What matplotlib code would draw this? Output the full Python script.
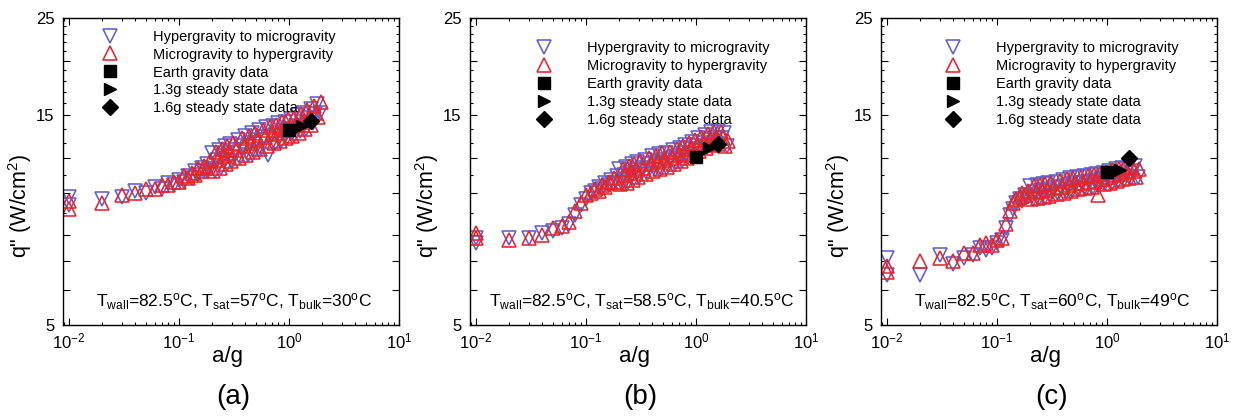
import matplotlib
matplotlib.use('Agg')
import matplotlib.pyplot as plt
from matplotlib.ticker import FixedLocator, NullFormatter, FixedFormatter

plt.rcParams['font.family'] = 'Liberation Sans'
plt.rcParams['mathtext.fontset'] = 'custom'
plt.rcParams['mathtext.rm'] = 'Liberation Sans'
plt.rcParams['mathtext.it'] = 'Liberation Sans:italic'

# a/g values of the two sweep directions
x_hyper = [0.01, 0.01, 0.02, 0.03, 0.04, 0.05, 0.06, 0.07, 0.08, 0.09,
           0.10, 0.11, 0.12, 0.13, 0.14, 0.15, 0.16, 0.17, 0.18, 0.19,
           0.20, 0.21, 0.22, 0.23, 0.24, 0.25, 0.26, 0.27, 0.28, 0.29,
           0.30, 0.32, 0.34, 0.36, 0.38, 0.40, 0.42, 0.44, 0.46, 0.48,
           0.50, 0.53, 0.56, 0.59, 0.62, 0.65, 0.68, 0.71, 0.74, 0.77,
           0.80, 0.84, 0.88, 0.92, 0.96, 1.00, 1.05, 1.10, 1.15, 1.20,
           1.26, 1.32, 1.38, 1.44, 1.50, 1.57, 1.64, 1.72, 1.80, 1.90]
x_micro = [0.01, 0.01, 0.02, 0.03, 0.04, 0.05, 0.06, 0.07, 0.08, 0.09,
           0.10, 0.11, 0.12, 0.13, 0.14, 0.15, 0.16, 0.17, 0.18, 0.19,
           0.205, 0.215, 0.225, 0.235, 0.245, 0.255, 0.265, 0.275, 0.285, 0.295,
           0.31, 0.33, 0.35, 0.37, 0.39, 0.41, 0.43, 0.45, 0.47, 0.49,
           0.515, 0.545, 0.575, 0.605, 0.635, 0.665, 0.695, 0.725, 0.755, 0.785,
           0.82, 0.86, 0.90, 0.94, 0.98, 1.02, 1.07, 1.12, 1.17, 1.23,
           1.29, 1.35, 1.41, 1.47, 1.53, 1.60, 1.68, 1.76, 1.85, 1.95]

# heat flux q" (W/cm2), case (a)
qa_hyper = [9.8, 9.4, 9.7, 9.8, 10.1, 10.0, 10.3, 10.2, 10.5, 10.4,
            10.7, 10.6, 10.9, 10.8, 11.2, 11.0, 11.4, 11.2, 11.6, 11.3,
            12.3, 11.2, 11.9, 12.5, 11.4, 12.1, 12.8, 11.6, 12.3, 12.9,
            11.8, 12.5, 13.2, 12.0, 12.8, 13.5, 12.2, 13.0, 13.7, 12.4,
            13.2, 13.9, 12.6, 13.4, 14.1, 12.2, 13.5, 14.2, 12.9, 13.7,
            14.4, 13.1, 13.9, 14.5, 13.3, 14.0, 14.7, 13.5, 14.2, 15.0,
            13.8, 14.5, 15.2, 14.0, 14.8, 15.5, 14.4, 15.1, 15.9, 15.2]
qa_micro = [9.6, 9.2, 9.5, 9.9, 10.0, 10.2, 10.2, 10.4, 10.4, 10.6,
            10.6, 10.9, 10.8, 11.1, 11.0, 11.4, 11.2, 11.5, 11.4, 11.8,
            11.2, 12.4, 11.9, 11.4, 12.6, 12.1, 11.6, 12.8, 12.3, 11.8,
            13.0, 12.5, 12.0, 13.3, 12.8, 12.2, 13.5, 13.0, 12.4, 13.7,
            13.2, 12.6, 13.9, 13.4, 12.8, 14.1, 13.6, 13.0, 14.3, 13.7,
            13.1, 14.5, 13.9, 13.3, 14.7, 14.1, 13.5, 14.8, 14.3, 13.7,
            15.1, 14.5, 14.0, 15.4, 14.8, 14.3, 15.8, 15.2, 14.9, 16.1]

# case (b)
qb_hyper = [7.9, 7.7, 7.9, 7.9, 8.1, 8.2, 8.3, 8.5, 8.9, 9.4,
            9.7, 10.0, 10.1, 10.3, 10.2, 10.5, 10.4, 10.7, 10.5, 10.9,
            11.3, 10.45, 10.95, 11.45, 10.6, 11.1, 11.6, 10.75, 11.25, 11.75,
            10.85, 11.4, 11.9, 11.05, 11.6, 12.1, 11.25, 11.75, 12.25, 11.35,
            11.85, 12.35, 11.5, 12.0, 12.5, 11.65, 12.15, 12.65, 11.8, 12.3,
            12.85, 12.05, 12.55, 13.05, 12.25, 12.8, 13.3, 12.5, 13.0, 13.55,
            12.7, 13.2, 13.75, 12.85, 13.35, 13.8, 12.9, 13.3, 13.7, 12.75]
qb_micro = [8.1, 7.9, 7.8, 7.9, 8.0, 8.3, 8.4, 8.6, 9.1, 9.5,
            9.9, 10.0, 10.2, 10.1, 10.4, 10.3, 10.6, 10.5, 10.8, 10.6,
            10.45, 11.35, 10.95, 10.55, 11.5, 11.1, 10.7, 11.65, 11.25, 10.85,
            11.8, 11.4, 11.05, 12.0, 11.6, 11.2, 12.15, 11.75, 11.35, 12.3,
            11.85, 11.45, 12.4, 12.0, 11.6, 12.55, 12.2, 11.8, 12.75, 12.35,
            12.0, 12.95, 12.6, 12.2, 13.2, 12.8, 12.45, 13.4, 13.0, 12.65,
            13.6, 13.25, 12.85, 13.75, 13.35, 12.9, 13.75, 13.3, 12.8, 13.15]

# case (c)
qc_hyper = [7.1, 6.5, 6.5, 7.2, 6.9, 7.1, 7.2, 7.5, 7.4, 7.5,
            7.7, 7.8, 8.3, 8.9, 9.2, 9.5, 9.7, 9.6, 9.9, 9.8,
            10.35, 9.7, 10.05, 10.4, 9.75, 10.1, 10.45, 9.8, 10.15, 10.5,
            9.85, 10.25, 10.6, 9.95, 10.3, 10.7, 10.05, 10.4, 10.8, 10.1,
            10.5, 10.85, 10.2, 10.55, 10.9, 10.2, 10.6, 10.95, 10.3, 10.65,
            11.05, 10.4, 10.75, 11.1, 10.5, 10.85, 11.2, 10.55, 10.9, 11.3,
            10.65, 11.0, 11.4, 10.7, 11.1, 11.5, 10.8, 11.2, 11.5, 10.85]
qc_micro = [6.8, 6.6, 7.0, 7.1, 7.0, 7.3, 7.3, 7.6, 7.7, 7.6,
            7.8, 7.9, 8.5, 9.1, 9.5, 9.7, 9.8, 10.0, 9.9, 10.1,
            9.7, 10.35, 10.05, 9.75, 10.4, 10.1, 9.8, 10.45, 10.15, 9.85,
            10.55, 10.25, 9.95, 10.65, 10.3, 10.0, 10.75, 10.4, 10.1, 10.8,
            10.5, 10.2, 10.85, 10.55, 10.25, 10.9, 10.6, 10.3, 10.95, 10.65,
            9.9, 11.05, 10.75, 10.45, 11.15, 10.85, 10.55, 11.25, 10.95, 10.65,
            11.35, 11.05, 10.75, 11.45, 11.15, 10.8, 11.45, 11.2, 10.85, 11.3]

# steady state points at 1g, 1.3g, 1.6g
g_steady = [1.0, 1.3, 1.6]
qa_steady = [13.9, 14.2, 14.6]
qb_steady = [12.05, 12.65, 12.9]
qc_steady = [11.15, 11.25, 12.0]

conditions = [r'T$_{\rm wall}$=82.5$^{\rm o}$C, T$_{\rm sat}$=57$^{\rm o}$C, T$_{\rm bulk}$=30$^{\rm o}$C',
              r'T$_{\rm wall}$=82.5$^{\rm o}$C, T$_{\rm sat}$=58.5$^{\rm o}$C, T$_{\rm bulk}$=40.5$^{\rm o}$C',
              r'T$_{\rm wall}$=82.5$^{\rm o}$C, T$_{\rm sat}$=60$^{\rm o}$C, T$_{\rm bulk}$=49$^{\rm o}$C']
panel_tags = ['(a)', '(b)', '(c)']

blue = '#5f5fd0'
red = '#e4262c'

fig = plt.figure(figsize=(12.37, 4.16), dpi=100)
lefts = [63, 470, 881]
leg_pos = [(0.095, 0.962), (0.178, 0.925), (0.172, 0.925)]
series = [(qa_hyper, qa_micro, qa_steady),
          (qb_hyper, qb_micro, qb_steady),
          (qc_hyper, qc_micro, qc_steady)]

for i in range(3):
    ax = fig.add_axes([lefts[i]/1237, 1-325/416, 336/1237, 307/416])
    qh, qm, qs = series[i]
    ax.plot(x_hyper, qh, ls='none', marker='v', ms=10.5, mfc='none', mec=blue, mew=1.15,
            label='Hypergravity to microgravity')
    ax.plot(x_micro, qm, ls='none', marker='^', ms=10.5, mfc='none', mec=red, mew=1.15,
            label='Microgravity to hypergravity')
    ax.plot(g_steady[0], qs[0], ls='none', marker='s', ms=8, color='black',
            label='Earth gravity data')
    ax.plot(g_steady[1], qs[1], ls='none', marker='>', ms=9, color='black',
            label='1.3g steady state data')
    ax.plot(g_steady[2], qs[2], ls='none', marker='D', ms=8, color='black',
            label='1.6g steady state data')

    ax.set_xscale('log')
    ax.set_yscale('log')
    ax.set_xlim(0.0088, 10)
    ax.set_ylim(5, 25)

    ax.xaxis.set_major_locator(FixedLocator([0.01, 0.1, 1, 10]))
    ax.xaxis.set_major_formatter(FixedFormatter([r'10$^{-2}$', r'10$^{-1}$', r'10$^{0}$', r'10$^{1}$']))
    ax.yaxis.set_major_locator(FixedLocator([5, 6, 7, 8, 10, 12, 15, 20, 25]))
    ax.yaxis.set_major_formatter(FixedFormatter(['5', '', '', '', '', '', '15', '', '25']))
    ax.yaxis.set_minor_locator(FixedLocator([9, 11, 13, 14, 16, 17, 18, 19, 21, 22, 23, 24]))
    ax.yaxis.set_minor_formatter(NullFormatter())
    ax.tick_params(which='both', direction='in', top=True, right=True, labelsize=12, width=0.8)
    ax.tick_params(which='major', length=5)
    ax.tick_params(which='minor', length=2.5)
    ax.tick_params(axis='x', pad=5)
    ax.tick_params(axis='y', pad=6)
    for sp in ax.spines.values():
        sp.set_linewidth(1.0)

    ax.set_xlabel('a/g', fontsize=16, labelpad=0)
    ax.xaxis.set_label_coords(0.49, -0.07)
    ax.set_ylabel(r'q" (W/cm$^2$)', fontsize=15.5)
    ax.yaxis.set_label_coords(-0.085, 0.39)

    ax.legend(loc='upper left', bbox_to_anchor=leg_pos[i], frameon=False,
              fontsize=10.5, handlelength=2.0, handletextpad=1.95,
              labelspacing=0.27, borderpad=0, borderaxespad=0)
    ax.text(0.51, 0.075, conditions[i], transform=ax.transAxes, ha='center', va='center', fontsize=12.5)
    ax.text(0.507, -0.235, panel_tags[i], transform=ax.transAxes, ha='center', va='center', fontsize=20)

fig.savefig('out.png', dpi=100)
